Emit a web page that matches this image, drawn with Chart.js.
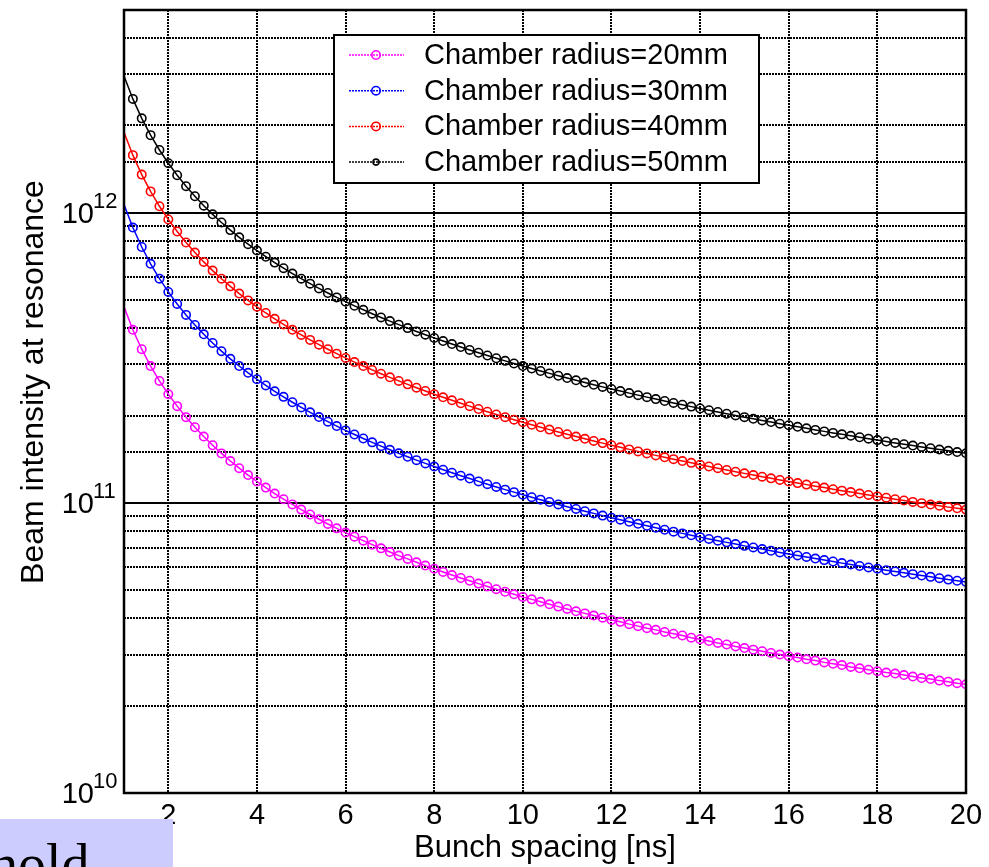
<!DOCTYPE html>
<html>
<head>
<meta charset="utf-8">
<title>Beam intensity at resonance</title>
<script src="https://cdn.jsdelivr.net/npm/chart.js@4.4.1/dist/chart.umd.min.js"></script>
<style>
  html, body { margin: 0; padding: 0; background: #fff; }
  #wrap { position: relative; width: 989px; height: 867px; overflow: hidden; }
  #chart { display: block; }
  .note { position: absolute; left: 0; top: 819px; width: 173px; height: 48px; background: #ccccff; overflow: hidden; }
  .note span { position: absolute; left: -10px; top: 17px; font: 56px/1 "Liberation Serif", "Times New Roman", serif; color: #000; white-space: nowrap; }
</style>
</head>
<body>
<div id="wrap">
  <canvas id="chart" width="989" height="867"></canvas>
  <div class="note"><span>hold</span></div>
</div>
<script>
// bunch spacing [ns]
const spacing = [
  1.0, 1.2, 1.4, 1.6, 1.8, 2.0, 2.2, 2.4, 2.6, 2.8,
  3.0, 3.2, 3.4, 3.6, 3.8, 4.0, 4.2, 4.4, 4.6, 4.8,
  5.0, 5.2, 5.4, 5.6, 5.8, 6.0, 6.2, 6.4, 6.6, 6.8,
  7.0, 7.2, 7.4, 7.6, 7.8, 8.0, 8.2, 8.4, 8.6, 8.8,
  9.0, 9.2, 9.4, 9.6, 9.8, 10.0, 10.2, 10.4, 10.6, 10.8,
  11.0, 11.2, 11.4, 11.6, 11.8, 12.0, 12.2, 12.4, 12.6, 12.8,
  13.0, 13.2, 13.4, 13.6, 13.8, 14.0, 14.2, 14.4, 14.6, 14.8,
  15.0, 15.2, 15.4, 15.6, 15.8, 16.0, 16.2, 16.4, 16.6, 16.8,
  17.0, 17.2, 17.4, 17.6, 17.8, 18.0, 18.2, 18.4, 18.6, 18.8,
  19.0, 19.2, 19.4, 19.6, 19.8, 20.0
];

// beam intensity at resonance, in units of 1e9
const UNIT = 1e9;
const radius20 = [
  474, 395.0, 338.6, 296.3, 263.3, 237.0, 215.5, 197.5, 182.3, 169.3,
  158.0, 148.1, 139.4, 131.7, 124.7, 118.5, 112.9, 107.7, 103.0, 98.8,
  94.8, 91.2, 87.8, 84.6, 81.7, 79.0, 76.5, 74.1, 71.8, 69.7,
  67.7, 65.8, 64.1, 62.4, 60.8, 59.3, 57.8, 56.4, 55.1, 53.9,
  52.7, 51.5, 50.4, 49.4, 48.4, 47.4, 46.5, 45.6, 44.7, 43.9,
  43.1, 42.3, 41.6, 40.9, 40.2, 39.5, 38.9, 38.2, 37.6, 37.0,
  36.5, 35.9, 35.4, 34.9, 34.3, 33.9, 33.4, 32.9, 32.5, 32.0,
  31.6, 31.2, 30.8, 30.4, 30.0, 29.6, 29.3, 28.9, 28.6, 28.2,
  27.9, 27.6, 27.2, 26.9, 26.6, 26.3, 26.0, 25.8, 25.5, 25.2,
  24.9, 24.7, 24.4, 24.2, 23.9, 23.7
];
const radius30 = [
  1067, 889.2, 762.1, 666.9, 592.8, 533.5, 485.0, 444.6, 410.4, 381.1,
  355.7, 333.4, 313.8, 296.4, 280.8, 266.8, 254.0, 242.5, 232.0, 222.3,
  213.4, 205.2, 197.6, 190.5, 184.0, 177.8, 172.1, 166.7, 161.7, 156.9,
  152.4, 148.2, 144.2, 140.4, 136.8, 133.4, 130.1, 127.0, 124.1, 121.3,
  118.6, 116.0, 113.5, 111.1, 108.9, 106.7, 104.6, 102.6, 100.7, 98.8,
  97.0, 95.3, 93.6, 92.0, 90.4, 88.9, 87.5, 86.1, 84.7, 83.4,
  82.1, 80.8, 79.6, 78.5, 77.3, 76.2, 75.1, 74.1, 73.1, 72.1,
  71.1, 70.2, 69.3, 68.4, 67.5, 66.7, 65.9, 65.1, 64.3, 63.5,
  62.8, 62.0, 61.3, 60.6, 59.9, 59.3, 58.6, 58.0, 57.4, 56.8,
  56.2, 55.6, 55.0, 54.4, 53.9, 53.4
];
const radius40 = [
  1896, 1580, 1354, 1185, 1053, 948.0, 861.8, 790.0, 729.2, 677.1,
  632.0, 592.5, 557.6, 526.7, 498.9, 474.0, 451.4, 430.9, 412.2, 395.0,
  379.2, 364.6, 351.1, 338.6, 326.9, 316.0, 305.8, 296.3, 287.3, 278.8,
  270.9, 263.3, 256.2, 249.5, 243.1, 237.0, 231.2, 225.7, 220.5, 215.5,
  210.7, 206.1, 201.7, 197.5, 193.5, 189.6, 185.9, 182.3, 178.9, 175.6,
  172.4, 169.3, 166.3, 163.5, 160.7, 158.0, 155.4, 152.9, 150.5, 148.1,
  145.8, 143.6, 141.5, 139.4, 137.4, 135.4, 133.5, 131.7, 129.9, 128.1,
  126.4, 124.7, 123.1, 121.5, 120.0, 118.5, 117.0, 115.6, 114.2, 112.9,
  111.5, 110.2, 109.0, 107.7, 106.5, 105.3, 104.2, 103.0, 101.9, 100.8,
  99.8, 98.7, 97.7, 96.7, 95.8, 94.8
];
const radius50 = [
  2963, 2469, 2116, 1852, 1646, 1482, 1347, 1235, 1140, 1058,
  987.7, 925.9, 871.5, 823.1, 779.7, 740.8, 705.5, 673.4, 644.1, 617.3,
  592.6, 569.8, 548.7, 529.1, 510.9, 493.8, 477.9, 463.0, 448.9, 435.7,
  423.3, 411.5, 400.4, 389.9, 379.9, 370.4, 361.3, 352.7, 344.5, 336.7,
  329.2, 322.1, 315.2, 308.7, 302.3, 296.3, 290.5, 284.9, 279.5, 274.3,
  269.4, 264.6, 259.9, 255.4, 251.1, 246.9, 242.9, 239.0, 235.2, 231.5,
  227.9, 224.5, 221.1, 217.9, 214.7, 211.6, 208.7, 205.7, 202.9, 200.2,
  197.5, 194.9, 192.4, 189.9, 187.5, 185.2, 182.9, 180.7, 178.5, 176.4,
  174.3, 172.3, 170.3, 168.4, 166.5, 164.6, 162.8, 161.0, 159.3, 157.6,
  155.9, 154.3, 152.7, 151.2, 149.7, 148.2
];

const seriesLabels = [
  'Chamber radius=20mm',
  'Chamber radius=30mm',
  'Chamber radius=40mm',
  'Chamber radius=50mm'
];
const seriesValues = [radius20, radius30, radius40, radius50];
const seriesColors = ['#ff00ff', '#0000ff', '#ff0000', '#000000'];

const xTicks = [2, 4, 6, 8, 10, 12, 14, 16, 18, 20];
const yDecades = [1e10, 1e11, 1e12];
const xRange = [1, 20];
const yRange = [1e10, 5e12];

const FONT = '"Liberation Sans", Arial, Helvetica, sans-serif';

const datasets = seriesValues.map((vals, k) => ({
  label: seriesLabels[k],
  data: spacing.map((x, i) => ({ x: x, y: vals[i] * UNIT })),
  borderColor: seriesColors[k],
  borderWidth: 1.5,
  pointStyle: 'circle',
  pointRadius: c => (c.dataIndex === 0 ? 0 : 4.2),
  pointBorderWidth: 1.6,
  pointBorderColor: seriesColors[k],
  pointBackgroundColor: 'rgba(0,0,0,0)',
  tension: 0
}));

// solid decade lines, boxed frame, legend, y tick labels with exponents and y title
const matlabLook = {
  id: 'matlabLook',
  beforeDatasetsDraw(chart) {
    const { ctx, chartArea: a, scales: { y } } = chart;
    ctx.save();
    ctx.strokeStyle = '#000';
    ctx.lineWidth = 2;
    yDecades.forEach(v => {
      const py = Math.round(y.getPixelForValue(v));
      ctx.beginPath();
      ctx.moveTo(a.left, py);
      ctx.lineTo(a.right, py);
      ctx.stroke();
    });
    ctx.restore();
  },
  afterDatasetsDraw(chart) {
    const { ctx, chartArea: a } = chart;
    const bx = a.left + 210, by = a.top + 25, bw = 425, bh = 148;
    ctx.save();
    ctx.fillStyle = '#fff';
    ctx.fillRect(bx, by, bw, bh);
    ctx.strokeStyle = '#000';
    ctx.lineWidth = 2;
    ctx.strokeRect(bx, by, bw, bh);
    ctx.font = '29px ' + FONT;
    ctx.textBaseline = 'middle';
    ctx.textAlign = 'left';
    chart.data.datasets.forEach((ds, i) => {
      const ly = by + 20 + i * 35.7;
      ctx.strokeStyle = ds.borderColor;
      ctx.lineWidth = 1.5;
      ctx.setLineDash([2, 1]);
      ctx.beginPath();
      ctx.moveTo(bx + 15, ly);
      ctx.lineTo(bx + 70, ly);
      ctx.stroke();
      ctx.setLineDash([]);
      ctx.lineWidth = 1.6;
      ctx.beginPath();
      ctx.arc(bx + 42, ly, i === 3 ? 3 : 4.2, 0, Math.PI * 2);
      ctx.stroke();
      ctx.fillStyle = '#000';
      ctx.fillText(ds.label, bx + 90, ly + 1);
    });
    ctx.restore();
  },
  afterDraw(chart) {
    const { ctx, chartArea: a, scales: { y } } = chart;
    ctx.save();
    ctx.strokeStyle = '#000';
    ctx.lineWidth = 2.5;
    ctx.strokeRect(a.left, a.top, a.right - a.left, a.bottom - a.top);

    ctx.fillStyle = '#000';
    ctx.textBaseline = 'alphabetic';
    const baseRight = a.left - 30;
    yDecades.forEach(v => {
      const py = y.getPixelForValue(v);
      ctx.font = '29px ' + FONT;
      ctx.textAlign = 'right';
      ctx.fillText('10', baseRight, py + 10);
      ctx.font = '22px ' + FONT;
      ctx.textAlign = 'left';
      ctx.fillText(String(Math.round(Math.log10(v))), baseRight - 1, py - 5);
    });

    ctx.translate(a.left - 81, 382);
    ctx.rotate(-Math.PI / 2);
    ctx.font = '32px ' + FONT;
    ctx.textAlign = 'center';
    ctx.fillText('Beam intensity at resonance', 0, 0);
    ctx.restore();
  }
};

const gridStyle = { color: '#000', lineWidth: 2, drawTicks: false };
const gridBorder = { display: false, dash: [2, 1] };

new Chart(document.getElementById('chart'), {
  type: 'line',
  data: { datasets: datasets },
  options: {
    responsive: false,
    animation: false,
    events: [],
    layout: { padding: { left: 0, top: 10, right: 23, bottom: 0 } },
    plugins: {
      legend: { display: false },
      tooltip: { enabled: false }
    },
    scales: {
      x: {
        type: 'linear',
        min: xRange[0],
        max: xRange[1],
        afterBuildTicks: s => { s.ticks = xTicks.map(v => ({ value: v })); },
        afterFit: s => { s.height = 74; },
        ticks: { font: { family: FONT, size: 29 }, color: '#000', padding: 6, maxRotation: 0, autoSkip: false },
        grid: gridStyle,
        border: gridBorder,
        title: {
          display: true,
          text: 'Bunch spacing [ns]',
          font: { family: FONT, size: 31 },
          color: '#000',
          padding: { top: 0, bottom: 0 }
        }
      },
      y: {
        type: 'logarithmic',
        min: yRange[0],
        max: yRange[1],
        afterFit: s => { s.width = 124; },
        ticks: { display: false },
        grid: gridStyle,
        border: gridBorder
      }
    }
  },
  plugins: [matlabLook]
});
</script>
</body>
</html>
